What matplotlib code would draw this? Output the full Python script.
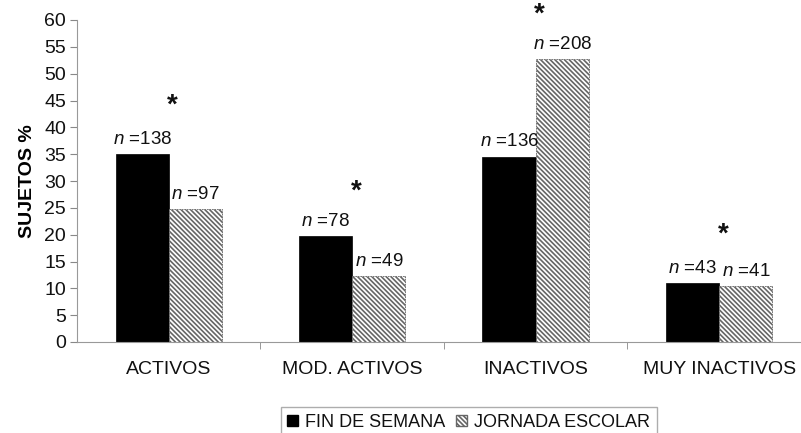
import matplotlib.pyplot as plt
import matplotlib.patches as mpatches
import numpy as np

plt.rcParams['font.family'] = 'Liberation Sans'
plt.rcParams['mathtext.fontset'] = 'custom'
plt.rcParams['mathtext.it'] = 'Liberation Sans:italic'
plt.rcParams['hatch.linewidth'] = 1.2
plt.rcParams['text.color'] = '#111111'

categorias = ['ACTIVOS', 'MOD. ACTIVOS', 'INACTIVOS', 'MUY INACTIVOS']
fin_semana = [35.0, 19.7, 34.5, 11.0]
jornada = [24.7, 12.3, 52.7, 10.4]
n_fin = ['=138', '=78', '=136', '=43']
n_jornada = ['=97', '=49', '=208', '=41']
asterisco = [44, 28, 61, 20]

fig = plt.figure(figsize=(8.01, 4.33), dpi=100)
ax = fig.add_axes([77 / 801, (433 - 342) / 433, 1 - 77 / 801, (342 - 20) / 433])

x = np.arange(len(categorias))
w = 0.29
rayado = '\\' * 7
ax.bar(x - w / 2, fin_semana, w, color='black', edgecolor='black', linewidth=0.5)
ax.bar(x + w / 2, jornada, w, color='white', edgecolor='#666666',
       hatch=rayado, linewidth=0.6, linestyle=(0, (2, 1)))

for i in x:
    ax.text(i - w / 2, fin_semana[i] + 1.2, f'$n$ {n_fin[i]}', ha='center',
            va='bottom', fontsize=13.5)
    ax.text(i + w / 2, jornada[i] + 1.2, f'$n$ {n_jornada[i]}', ha='center',
            va='bottom', fontsize=13.5)
    ax.text(i + 0.02, asterisco[i], '*', ha='center', va='center',
            fontsize=20, fontweight='bold', clip_on=False)

ax.set_ylim(0, 60)
ax.set_xlim(-0.5, 3.446)
ax.set_yticks(range(0, 61, 5))
ax.set_xticks(x)
ax.set_xticklabels(categorias, fontsize=14)
ax.set_xticks(np.arange(0.5, 3.5, 1), minor=True)
ax.tick_params(axis='x', which='major', length=0, pad=14, labelcolor='#111111')
ax.tick_params(axis='x', which='minor', length=5, color='#888888')
ax.tick_params(axis='y', labelsize=14, length=5, color='#888888', pad=3,
               labelcolor='#111111')
for s in ['top', 'right']:
    ax.spines[s].set_visible(False)
for s in ['left', 'bottom']:
    ax.spines[s].set_color('#999999')
ax.set_ylabel('SUJETOS %', fontsize=14, fontweight='bold', labelpad=6)

handles = [mpatches.Patch(facecolor='black', edgecolor='black', label='FIN DE SEMANA'),
           mpatches.Patch(facecolor='white', edgecolor='#666666', hatch=rayado,
                          label='JORNADA ESCOLAR')]
fig.legend(handles=handles, loc='lower center', bbox_to_anchor=(0.585, -0.03), ncol=2,
           fontsize=13, frameon=True, fancybox=False, edgecolor='#999999',
           handlelength=0.6, handleheight=0.6, handletextpad=0.4, columnspacing=0.6,
           borderpad=0.35)

fig.savefig('out.png', dpi=100)
